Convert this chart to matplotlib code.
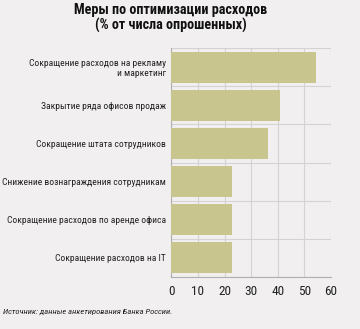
import matplotlib
matplotlib.use("Agg")
import matplotlib.pyplot as plt
from matplotlib.ticker import MultipleLocator

plt.rcParams['font.family'] = ['Roboto Condensed', 'PT Sans Narrow', 'DejaVu Sans']

categories = [
    "Сокращение расходов на рекламу\nи маркетинг",
    "Закрытие ряда офисов продаж",
    "Сокращение штата сотрудников",
    "Снижение вознаграждения сотрудникам",
    "Сокращение расходов по аренде офиса",
    "Сокращение расходов на IT",
]
values = [54.6, 41, 36.5, 22.8, 22.8, 22.8]
xticks = [0, 10, 20, 30, 40, 50, 60]

bg = "#f1eff0"
bar_color = "#c8c68e"
grid_color = "#d4d2d3"

fig = plt.figure(figsize=(3.6, 3.29), dpi=100, facecolor=bg)
ax = fig.add_axes([0.476, 0.159, 0.443, 0.694], facecolor=bg)

ypos = list(range(len(categories)))
ax.barh(ypos, values, height=0.83, color=bar_color, zorder=3)

ax.set_xlim(0, 60)
ax.set_ylim(len(categories) - 0.5, -0.5)
ax.set_xticks(xticks)
ax.set_xticklabels([str(t) for t in xticks], fontsize=9.5)
ax.set_yticks(ypos)
ax.set_yticklabels(categories, fontsize=6.8, ha="right", linespacing=1.05)
ax.yaxis.set_minor_locator(MultipleLocator(1, offset=0.5))

ax.grid(True, axis="x", which="major", color=grid_color, lw=0.8, zorder=0)
ax.grid(True, axis="y", which="minor", color=grid_color, lw=0.8, zorder=0)
ax.tick_params(axis="y", which="both", length=0, pad=4, colors="#222222")
ax.tick_params(axis="x", which="both", length=0, pad=6, colors="#222222")

for side in ["top", "right"]:
    ax.spines[side].set_visible(False)
for side in ["left", "bottom"]:
    ax.spines[side].set_color("#b0aeae")
    ax.spines[side].set_linewidth(0.8)

fig.text(0.475, 0.99, "Меры по оптимизации расходов\n(% от числа опрошенных)",
         ha="center", va="top", fontsize=10.2, fontweight="bold", linespacing=1.05,
         color="#111111")
fig.text(0.008, 0.052, "Источник: данные анкетирования Банка России.",
         ha="left", va="center", fontsize=6.1, style="italic", color="#222222")

fig.savefig("out.png", dpi=100, facecolor=bg)
